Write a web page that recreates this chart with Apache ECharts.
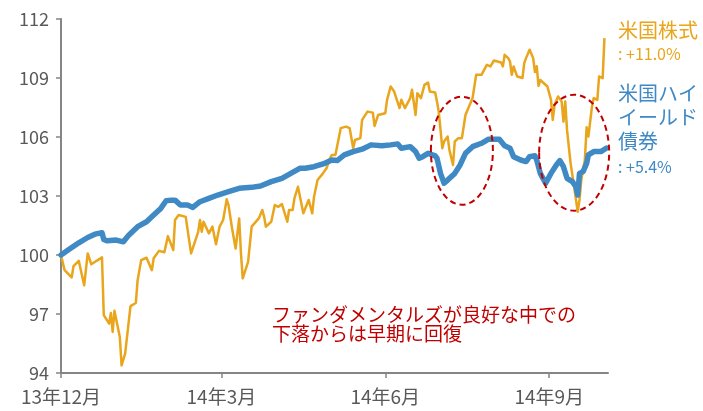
<!DOCTYPE html>
<html><head><meta charset="utf-8">
<script src="https://cdn.jsdelivr.net/npm/echarts@6/dist/echarts.min.js"></script>
<style>html,body{margin:0;padding:0;background:#fff}#c{width:703px;height:411px}</style>
</head><body><div id="c"></div>
<script>
// ---- data ----
const startDate = [2013, 11, 1];           // 2013-12-01, day offsets below count from here
const xTickDays = [0, 90, 182, 274];
const xTickLabels = ['13年12月', '14年3月', '14年6月', '14年9月'];
const xMaxDay = 307;
const yMin = 94, yMax = 112, yStep = 3;

const seriesNames = ['米国株式', '米国ハイイールド債券'];

const stockDays = [0,2,6,7,10,13,15,17,23,24,27,28,29,30,33,34,36,37,39,42,43,45,48,51,52,53,55,58,60,63,64,66,67,70,73,77,78,79,80,83,85,87,89,91,93,94,96,98,100,101,102,105,107,111,113,114,115,118,120,122,124,127,128,130,131,133,136,139,141,142,144,147,149,151,152,154,155,157,160,162,164,165,168,169,172,175,176,178,182,183,185,187,190,191,193,196,197,199,200,202,204,206,207,210,211,212,213,214,215,217,218,220,221,223,225,227,231,233,236,238,239,241,243,245,247,248,249,251,252,253,254,256,259,260,261,263,265,266,267,268,269,273,275,276,277,279,281,282,283,284,286,288,290,291,292,294,295,296,298,299,301,302,304,305];
const stockValues = [100.0,99.23,98.86,99.43,99.70,98.46,100.08,99.53,99.88,96.94,96.51,97.05,96.09,97.16,95.83,94.39,94.99,94.90,97.40,97.56,98.72,99.74,99.86,99.23,99.83,99.74,100.21,100.14,100.96,100.25,101.78,102.03,102.03,101.94,100.08,101.18,101.78,101.18,101.69,101.10,101.44,100.55,101.44,101.78,102.83,102.54,101.36,100.33,101.86,100.08,98.81,99.65,101.44,101.86,102.29,101.94,101.44,101.69,102.54,102.45,102.59,101.69,102.29,102.29,102.88,103.47,102.12,102.80,102.12,102.96,103.81,104.15,104.41,104.92,105.09,105.09,105.17,106.45,106.53,106.45,105.43,105.85,105.94,106.87,107.29,107.24,106.56,107.12,107.21,107.89,108.57,108.31,107.47,107.89,107.47,107.98,108.40,107.12,108.23,107.98,108.65,108.77,108.31,108.26,107.80,107.29,106.36,105.43,105.77,106.02,105.34,104.58,105.77,105.94,105.94,107.12,107.98,109.16,109.16,109.50,109.67,109.59,109.89,109.84,109.79,109.59,110.18,110.01,109.84,109.16,109.59,109.08,109.00,109.76,110.01,110.44,110.01,109.30,109.60,108.60,108.90,108.57,107.89,106.87,107.64,108.06,107.80,106.78,107.80,106.36,104.66,103.47,102.20,102.80,103.81,104.83,106.50,106.02,107.55,107.98,107.89,109.08,108.99,111.03];

const hyDays = [0,4,10,15,19,23,24,26,31,35,38,43,48,52,56,59,62,64,67,71,74,78,83,88,94,100,107,112,118,124,129,134,137,142,148,152,155,159,164,169,174,180,185,189,191,196,199,201,203,206,210,211,213,215,217,221,224,227,231,236,240,246,249,252,254,258,261,263,266,267,269,272,275,278,280,282,284,287,289,290,291,293,295,296,299,303,306];
const hyValues = [100.0,100.25,100.62,100.89,101.06,101.13,100.79,100.72,100.76,100.67,101.01,101.44,101.69,102.03,102.37,102.76,102.79,102.79,102.54,102.54,102.42,102.71,102.88,103.05,103.22,103.39,103.44,103.51,103.73,103.90,104.15,104.41,104.41,104.49,104.66,104.83,104.80,105.09,105.26,105.38,105.60,105.55,105.60,105.65,105.43,105.51,105.26,104.92,105.00,105.17,105.04,104.92,104.15,103.65,103.81,104.15,104.58,105.17,105.51,105.68,105.89,105.89,105.55,105.43,105.00,104.83,104.75,105.00,105.05,104.83,104.15,103.65,104.15,104.58,104.80,104.49,103.90,103.73,103.47,103.05,104.15,104.24,104.66,105.09,105.26,105.26,105.43];

const stockLabelLines = ['米国株式', ': +11.0%'];
const hyLabelLines = ['米国ハイ', 'イールド', '債券', ': +5.4%'];
const noteLines = ['ファンダメンタルズが良好な中での', '下落からは早期に回復'];
const ellipseDays = [225, 288];
const ellipseValues = [105.3, 105.2];

// ---- build ----
const ts = d => new Date(startDate[0], startDate[1], startDate[2] + d).getTime();
const tickTs = xTickDays.map(ts);
const pair = (days, vals) => days.map((d, i) => [ts(d), vals[i]]);

const ORANGE = '#E9A51C', BLUE = '#3F89C5', RED = '#C00000', GRAY = '#595959';
const FONT = '"Noto Sans CJK JP", "Noto Sans", sans-serif';

const chart = echarts.init(document.getElementById('c'), null, {renderer: 'canvas'});
chart.setOption({
  animation: false,
  backgroundColor: '#fff',
  textStyle: {fontFamily: FONT},
  grid: {left: 61, right: 95, top: 19, bottom: 38},
  xAxis: {
    type: 'value',
    min: ts(0), max: ts(xMaxDay),
    axisLine: {show: true, lineStyle: {color: '#858585', width: 2}},
    axisTick: {show: true, customValues: tickTs, length: 5, lineStyle: {color: '#858585', width: 1.5}},
    axisLabel: {
      customValues: tickTs, margin: 14, fontSize: 19, color: GRAY, fontFamily: FONT,
      formatter: v => { const i = tickTs.findIndex(t => Math.abs(t - v) < 43200000); return i >= 0 ? xTickLabels[i] : ''; }
    },
    splitLine: {show: false}
  },
  yAxis: {
    type: 'value', min: yMin, max: yMax, interval: yStep,
    axisLine: {show: true, lineStyle: {color: '#858585', width: 2}},
    axisTick: {show: true, length: 5, lineStyle: {color: '#858585', width: 1.5}},
    axisLabel: {fontSize: 18, color: GRAY, margin: 12, fontFamily: FONT},
    splitLine: {show: false}
  },
  series: [
    {name: seriesNames[0], type: 'line', data: pair(stockDays, stockValues), showSymbol: false, symbol: 'none',
     lineStyle: {color: ORANGE, width: 2.5, join: 'round'}, z: 2},
    {name: seriesNames[1], type: 'line', data: pair(hyDays, hyValues), showSymbol: false, symbol: 'none',
     lineStyle: {color: BLUE, width: 5.5, join: 'round', cap: 'round'}, z: 3}
  ]
});

const radii = [[31, 54], [35, 58]];
const graphics = [];
ellipseDays.forEach((d, i) => {
  const p = chart.convertToPixel({gridIndex: 0}, [ts(d), ellipseValues[i]]);
  graphics.push({type: 'ellipse', shape: {cx: p[0], cy: p[1], rx: radii[i][0], ry: radii[i][1]},
    style: {fill: 'none', stroke: RED, lineWidth: 2, lineDash: [6, 4]}, z: 10});
});
graphics.push({type: 'text', left: 272, top: 305, z: 10,
  style: {text: noteLines.join('\n'), fill: RED, font: '19px ' + FONT, lineHeight: 19}});
graphics.push({type: 'text', left: 618, top: 20, z: 10,
  style: {text: stockLabelLines[0], fill: ORANGE, font: '20px ' + FONT}});
graphics.push({type: 'text', left: 618, top: 46, z: 10,
  style: {text: stockLabelLines[1], fill: ORANGE, font: '16px ' + FONT}});
graphics.push({type: 'text', left: 618, top: 81, z: 10,
  style: {text: hyLabelLines.slice(0, 3).join('\n'), fill: BLUE, font: '20px ' + FONT, lineHeight: 24}});
graphics.push({type: 'text', left: 618, top: 159, z: 10,
  style: {text: hyLabelLines[3], fill: BLUE, font: '16px ' + FONT}});
chart.setOption({graphic: graphics});
</script>
</body></html>
